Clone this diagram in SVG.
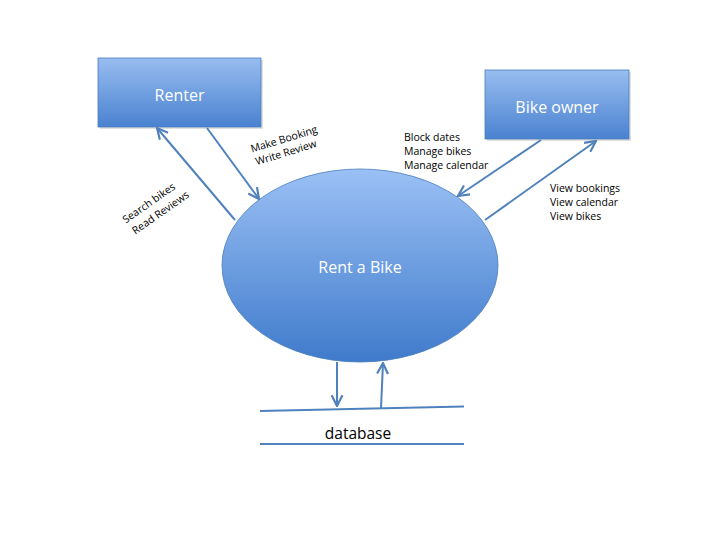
<svg xmlns="http://www.w3.org/2000/svg" width="720" height="540" viewBox="0 0 720 540">
<style>
.lbl{font-family:"Open Sans","Liberation Sans",sans-serif;font-size:10.5px;fill:#000}
.nodetxt{font-family:"Open Sans","Liberation Sans",sans-serif;font-size:16px;fill:#fff;text-anchor:middle}
.con{stroke:#4F81BD;stroke-width:2;fill:none}
.box{fill:url(#gBox);stroke:#4A7EBB;stroke-width:0.8}
.db{stroke:#4F81BD;stroke-width:2;fill:none}
</style>
<defs>
<linearGradient id="gBox" x1="0" y1="0" x2="0" y2="1">
<stop offset="0" stop-color="#98BDF0"/>
<stop offset="1" stop-color="#4A82D0"/>
</linearGradient>
<linearGradient id="gEll" x1="0" y1="0" x2="0" y2="1">
<stop offset="0" stop-color="#9BC0F5"/>
<stop offset="1" stop-color="#3F7BCB"/>
</linearGradient>
<marker id="arr" viewBox="0 0 12 12" refX="11" refY="6" markerWidth="6.5" markerHeight="6.5" orient="auto" markerUnits="strokeWidth">
<path d="M1,1 L11,6 L1,11" fill="none" stroke="#4F81BD" stroke-width="2"/>
</marker>
</defs>
<rect width="720" height="540" fill="#fff"/>
<g id="renter">
<rect x="100" y="60" width="163" height="69" fill="#000" opacity="0.12"/>
<rect class="box" x="98" y="58" width="163" height="69"/>
<text class="nodetxt" x="179.5" y="101">Renter</text>
</g>
<g id="bike-owner">
<rect x="487" y="72" width="144" height="69" fill="#000" opacity="0.12"/>
<rect class="box" x="485" y="70" width="144" height="69"/>
<text class="nodetxt" x="557" y="113">Bike owner</text>
</g>
<g id="rent-a-bike">
<ellipse cx="360" cy="265.5" rx="138" ry="96.5" fill="url(#gEll)" stroke="#4A7EBB" stroke-width="0.8"/>
<text class="nodetxt" x="360" y="273">Rent a Bike</text>
</g>
<g id="database">
<line class="db" x1="260" y1="411" x2="464" y2="406.5"/>
<line class="db" x1="260" y1="444" x2="464" y2="444"/>
<text x="358" y="439" font-family="'Open Sans','Liberation Sans',sans-serif" font-size="15.5" text-anchor="middle" fill="#000">database</text>
</g>
<g id="connectors">
<line class="con" x1="235" y1="220" x2="157" y2="128" marker-end="url(#arr)"/>
<line class="con" x1="207" y1="128" x2="259" y2="199" marker-end="url(#arr)"/>
<line class="con" x1="541" y1="140" x2="458" y2="196" marker-end="url(#arr)"/>
<line class="con" x1="485" y1="220" x2="596" y2="141" marker-end="url(#arr)"/>
<line class="con" x1="337" y1="362" x2="337" y2="406" marker-end="url(#arr)"/>
<line class="con" x1="381" y1="408" x2="383" y2="363" marker-end="url(#arr)"/>
</g>
<g id="labels">
<g transform="translate(151,206) rotate(-35)">
<text class="lbl" x="0" y="0" text-anchor="middle">Search bikes</text>
<text class="lbl" x="4" y="14.5" text-anchor="middle">Read Reviews</text>
</g>
<g transform="translate(285,142.5) rotate(-17)">
<text class="lbl" x="0" y="0" text-anchor="middle">Make Booking</text>
<text class="lbl" x="-2" y="13.5" text-anchor="middle">Write Review</text>
</g>
<text class="lbl" x="404" y="141">Block dates</text>
<text class="lbl" x="404" y="155">Manage bikes</text>
<text class="lbl" x="404" y="169">Manage calendar</text>
<text class="lbl" x="550" y="192">View bookings</text>
<text class="lbl" x="550" y="206">View calendar</text>
<text class="lbl" x="550" y="220">View bikes</text>
</g>
</svg>
